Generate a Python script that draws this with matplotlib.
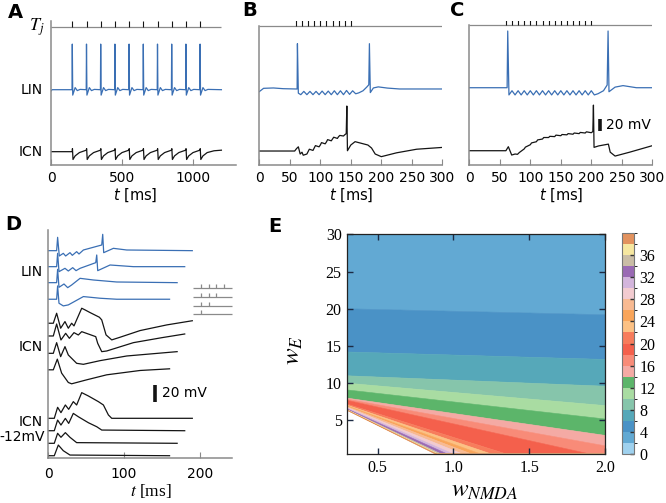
import numpy as np
import matplotlib
matplotlib.use("Agg")
import matplotlib.pyplot as plt
from matplotlib.colors import ListedColormap, BoundaryNorm
from matplotlib.cm import ScalarMappable

W, H = 666, 503
BLUE = "#3a6fb4"
BLACK = "#141414"
GREY = "#8a8a8a"

# ---------------- panel A (100 ms stimulus interval) ----------------
stim_a = [150, 250, 350, 450, 550, 650, 750, 850, 950, 1050]
lin_a_t = [0, 8, 148, 150, 153, 170, 185, 205, 248, 250, 253, 270, 285, 305,
           348, 350, 353, 370, 385, 405, 448, 450, 453, 470, 485, 505,
           548, 550, 553, 570, 585, 605, 648, 650, 653, 670, 685, 705,
           748, 750, 753, 770, 785, 805, 848, 850, 853, 870, 885, 905,
           948, 950, 953, 970, 985, 1005, 1048, 1050, 1053, 1070, 1085, 1105, 1200]
lin_a_v = [-2, 0, 0, 76, -9, 3.5, -1.5, 0.5, 0, 76, -9, 3.5, -1.5, 0.5,
           0, 76, -9, 3.5, -1.5, 0.5, 0, 76, -9, 3.5, -1.5, 0.5,
           0, 76, -9, 3.5, -1.5, 0.5, 0, 76, -9, 3.5, -1.5, 0.5,
           0, 76, -9, 3.5, -1.5, 0.5, 0, 76, -9, 3.5, -1.5, 0.5,
           0, 76, -9, 3.5, -1.5, 0.5, 0, 76, -9, 3.5, -1.5, 0.5, 0]
icn_a_t = [0, 150, 151, 155, 170, 200, 248, 251, 255, 270, 300, 348,
           351, 355, 370, 400, 448, 451, 455, 470, 500, 548,
           551, 555, 570, 600, 648, 651, 655, 670, 700, 748,
           751, 755, 770, 800, 848, 851, 855, 870, 900, 948,
           951, 955, 970, 1000, 1048, 1051, 1055, 1070, 1100, 1148, 1200]
icn_a_v = [0, 0, 5, -13, -7, -1.5, 2.5, 5, -13, -7, -1.5, 2.5,
           5, -13, -7, -1.5, 2.5, 5, -13, -7, -1.5, 2.5,
           5, -13, -7, -1.5, 2.5, 5, -13, -7, -1.5, 2.5,
           5, -13, -7, -1.5, 2.5, 5, -13, -7, -1.5, 2.5,
           5, -13, -7, -1.5, 2.5, 5, -13, -7, -1.5, 1.5, 2.5]

# ---------------- panel B (10 stimuli, 10 ms apart) ----------------
stim_b = [60, 70, 80, 90, 100, 110, 120, 130, 140, 150]
lin_b_t = [0, 7, 23, 39, 60, 62, 62.5, 64, 68, 73, 78, 83, 88, 93, 98, 103, 108,
           113, 118, 123, 128, 133, 138, 143, 148, 153, 158, 163, 170, 176,
           179.5, 180.5, 182, 187, 195, 210, 230, 300]
lin_b_v = [-4.4, 1.1, 1.7, 0.5, 0, 0, 75.5, -7, -9.5, -4, -9.5, -4, -9.5, -4,
           -9.5, -3.5, -9.5, -3.5, -9.5, -3, -9.5, -3, -9.5, -2.5, -9, -3, -8,
           -6.5, -3, 3, 7, 75.5, -6, 1.7, 3.5, 1.5, 0, 0]
icn_b_t = [0, 58, 61, 64, 67, 70, 72, 78, 80, 82, 88, 90, 92, 98, 100, 102, 108,
           110, 112, 118, 120, 122, 128, 130, 132, 138, 140, 142.5, 143.5, 144.5,
           150, 157, 178, 184, 190, 200, 225, 258, 300]
icn_b_v = [0, 0, 4, 7, -5, -2, -7, -5, -1, 3, 1, 5, 9, 7, 10, 14, 12, 15, 19, 17,
           20, 23, 21, 24, 26, 25, 27, 29, 75, 0.5, 10, 15.6, 10, 5, -5, -9.4,
           -3, 3, 6]

# ---------------- panel C (15 stimuli, 10 ms apart) ----------------
stim_c = [60, 70, 80, 90, 100, 110, 120, 130, 140, 150, 160, 170, 180, 190, 200]
lin_c_t = [0, 62, 63, 65, 70, 75, 80, 85, 90, 95, 100, 105, 110, 115, 120, 125,
           130, 135, 140, 145, 150, 155, 160, 165, 170, 175, 180, 185, 190, 195,
           200, 205, 211, 220, 226, 227.5, 229, 239, 252, 274, 300]
lin_c_v = [0, 0, 94.5, -12, -5, -12, -5, -12, -5, -12, -5, -12, -5, -12, -5, -12,
           -5, -12, -5, -12, -5, -12, -5, -12, -5, -12, -5, -12, -5, -12,
           -5, -12, -10, -5, 4.5, 94.5, -6.7, 1, 3.5, 0, 0]
icn_c_t = [0, 60, 64, 69.5, 75, 79, 82, 90, 92, 100, 102, 110, 112, 120, 122,
           130, 132, 140, 142, 150, 152, 160, 162, 170, 172, 180, 182, 190, 192,
           200, 202.5, 203.5, 204.5, 212, 228, 231, 239, 263, 300]
icn_c_v = [0, 0, 6.7, -7.2, -5.5, -6, -3, 3, 6, 10, 13, 15, 18, 19.5, 22, 22, 24,
           23.5, 26, 25, 27, 26.5, 28.5, 27.5, 29.5, 28.5, 30.5, 29.5, 31.5, 30,
           32, 76, 5.6, 8, 11, -2.4, -8.9, -2.4, 8.4]

# ---------------- panel D (1-4 stimuli) ----------------
lin_d_t = [[0, 11, 12.3, 14.5, 19.8, 22.9, 28.6, 31.7, 37.4, 40.5, 46.3, 70.5, 71.8, 73.1, 85.9, 103.5, 190],
           [0, 11, 12.3, 14.1, 22, 26.4, 32.2, 36.6, 41.9, 62.6, 63.9, 65.2, 81.5, 112.3, 180],
           [0, 11, 12.3, 14.1, 20.7, 25.6, 30.8, 41.9, 59.5, 90.3, 170],
           [0, 11, 12.3, 14.1, 19.8, 26.4, 46.3, 68.3, 90.3, 160]]
lin_d_v = [[0, 0, 16, -6.4, -3.2, -6.4, -2.4, -5.6, -1.2, -4, 0.8, 6.8, 19.6, -2.4, 2.8, 0.8, 0],
           [0, 0, 16, -6, -2, -5.2, -1.2, -4.8, -2, 4.8, 14, -4.8, 2, 0, 0],
           [0, 0, 16, -5.6, -1.6, -6, -2.8, 5.2, 3.2, 0.8, 0],
           [0, 0, 16, -4.8, -8, -6.8, 3.2, 1.2, 0, 0]]
icn_d_t = [[0, 6.6, 11, 16.3, 22, 26.4, 30.8, 33.9, 38.3, 44.1, 48.5, 55.1, 67.4, 70.5, 76.2, 83.7, 94.7, 121.1, 156.4, 190],
           [0, 6.6, 11, 16.7, 22.9, 27.8, 33.9, 39.6, 44.1, 62.6, 65.2, 70.5, 77.1, 112.3, 150, 180],
           [0, 6.6, 11, 16.3, 22, 26.4, 37.4, 46.3, 68.3, 103.5, 170],
           [0, 6.6, 11.9, 17.6, 26.4, 30.8, 50.7, 77.1, 121.1, 160]]
icn_d_v = [[0, 0, 12, -6, 2, -6, 0, -3.2, 6, 18, 16, 12.8, 7.2, 4, -14, -20, -16.8, -8.8, -2, 3],
           [0, 0, 14.4, -4.8, 3.2, -2.8, 4, 1.2, 5.2, -0.8, -8.8, -18.8, -18, -8, -2, 2.4],
           [0, 0, 12.8, -4, 8, -2, -12, -13.2, -8.8, -3.2, 2],
           [0, 0, 12.8, -4, -15.2, -16.8, -12, -6, -0.8, 1.2]]
icn12_d_t = [[0, 7.9, 12.3, 16.7, 22.5, 26.9, 33, 37.4, 44.1, 52.9, 66.1, 72.7, 79.3, 83.7, 190],
             [0, 7.9, 12.3, 16.7, 22.5, 26.9, 33, 39.6, 52.9, 63.9, 70.5, 180],
             [0, 7.9, 12.3, 16.7, 22.5, 28.6, 37.4, 170],
             [0, 7.9, 13.2, 19.8, 28.6, 160]]
icn12_d_v = [[0, 0, 13.2, 6.8, 16, 10.8, 20, 16, 30.8, 26.8, 20, 16, 4, 0, 0],
             [0, 0, 12.8, 6.8, 14.8, 8.8, 20.8, 16.8, 9.6, 4.8, 0.8, 0],
             [0, 0, 12, 7.2, 12.8, 7.2, 0.8, 0],
             [0, 0, 12.8, 6, 0.8, 0]]
stim_d = [201.5, 211.5, 221.5, 231.5]

# ---------------- panel E: level boundaries read from the map ----------------
# each boundary runs from (0.3, y_start) to (x_end, y_end)
e_levels = [4, 6, 8, 10, 12, 14, 16, 18, 20, 22, 24, 26, 28, 30, 32, 34, 36, 38, 40]
bound_y_start = [20.0, 14.2, 11.0, 10.0, 9.1, 8.0, 7.85, 7.7, 7.2, 7.05, 6.95,
                 6.85, 6.75, 6.65, 6.55, 6.45, 6.41, 6.38, 6.35]
bound_x_end = [2.0, 2.0, 2.0, 2.0, 2.0, 2.0, 2.0, 1.9, 1.35, 1.25, 1.18, 1.12,
               1.06, 1.0, 0.96, 0.92, 0.9, 0.89, 0.88]
bound_y_end = [19.2, 13.2, 9.6, 7.0, 5.2, 3.0, 1.6, 0.5, 0.5, 0.5, 0.5, 0.5,
               0.5, 0.5, 0.5, 0.5, 0.5, 0.5, 0.5]
band_colors = ['#9fd1ee', '#62a9d3', '#4a92c6', '#56a8b9', '#86c5ab', '#a9dca2',
               '#5cb56a', '#f4aaa4', '#f88b78', '#f4604c', '#f77c5c', '#fcc184',
               '#f9a55a', '#f8ba92', '#f2cbd0', '#d3b5dc', '#9a6ab4', '#cabda6',
               '#f6e7a0', '#e2925e']

fig = plt.figure(figsize=(W / 100, H / 100), dpi=100)


def add_px_axes(x0, y0, x1, y1):
    return fig.add_axes([x0 / W, 1 - y1 / H, (x1 - x0) / W, (y1 - y0) / H])


def ftext(x, y, s, **kw):
    fig.text(x / W, 1 - y / H, s, **kw)


def style_trace_ax(ax, xmax, ticks, ytop, spine_top, pad=4.5):
    ax.set_xlim(0, xmax)
    ax.set_ylim(0, ytop)
    ax.spines['top'].set_visible(False)
    ax.spines['right'].set_visible(False)
    for s in ('left', 'bottom'):
        ax.spines[s].set_color(GREY)
        ax.spines[s].set_linewidth(1.1)
    ax.spines['left'].set_bounds(0, spine_top)
    ax.set_yticks([])
    ax.set_xticks(ticks)
    ax.tick_params(axis='x', direction='in', length=4.5, color=GREY,
                   labelsize=10, pad=pad)
    ax.patch.set_alpha(0)


def raster(ax, stims, y, xmax):
    ax.hlines(y, 0, xmax, color=GREY, lw=0.9)
    ax.vlines(stims, y, y + 10, color=BLACK, lw=0.8)


# ----- A -----
axA = add_px_axes(51, 21, 235.6, 165)
style_trace_ax(axA, 1300, [0, 500, 1000], 240, 240)
raster(axA, stim_a, 230, 1200)
axA.plot(lin_a_t, np.array(lin_a_v) + 125.5, color=BLUE, lw=0.9)
axA.plot(icn_a_t, np.array(icn_a_v) + 22.2, color=BLACK, lw=0.9)

# ----- B -----
axB = add_px_axes(259.3, 21, 442.3, 165)
style_trace_ax(axB, 300, [0, 50, 100, 150, 200, 250, 300], 240, 231.7)
raster(axB, stim_b, 231.7, 300)
axB.plot(lin_b_t, np.array(lin_b_v) + 126.7, color=BLUE, lw=0.9)
axB.plot(icn_b_t, np.array(icn_b_v) + 23.3, color=BLACK, lw=0.9)

# ----- C -----
axC = add_px_axes(469.3, 21, 652.3, 165)
style_trace_ax(axC, 300, [0, 50, 100, 150, 200, 250, 300], 240, 233.3)
raster(axC, stim_c, 233.3, 300)
axC.plot(lin_c_t, np.array(lin_c_v) + 128.8, color=BLUE, lw=0.9)
axC.plot(icn_c_t, np.array(icn_c_v) + 23.8, color=BLACK, lw=0.9)
axC.plot([214, 214], [57.5, 77.5], color=BLACK, lw=2.6, solid_capstyle='butt')
axC.text(224, 67.5, '20 mV', fontsize=10, va='center', ha='left')

for xc in (135, 350.8, 560.8):
    ftext(xc, 195, r'$t$ [ms]', fontsize=10.5, ha='center', va='center')

ftext(36.5, 27, r'$T_j$', fontsize=13, ha='center', va='center',
      math_fontfamily='stix')
ftext(43, 89.5, 'LIN', fontsize=10, ha='right', va='center')
ftext(43, 152, 'ICN', fontsize=10, ha='right', va='center')

# ----- D -----
axD = add_px_axes(48.3, 230, 231.7, 458.3)
style_trace_ax(axD, 242, [0, 100, 200], 274, 274, pad=6)
lin_off = [249.2, 230.0, 210.8, 190.9]
icn_off = [162.1, 146.8, 126.0, 106.2]
icn12_off = [48.0, 33.1, 18.0, 3.1]
for t, v, o in zip(lin_d_t, lin_d_v, lin_off):
    axD.plot(t, np.array(v) + o, color=BLUE, lw=0.9)
for t, v, o in zip(icn_d_t, icn_d_v, icn_off):
    axD.plot(t, np.array(v) + o, color=BLACK, lw=0.9)
for t, v, o in zip(icn12_d_t, icn12_d_v, icn12_off):
    axD.plot(t, np.array(v) + o, color=BLACK, lw=0.9)
axD.plot([141, 141], [68, 88], color=BLACK, lw=2.6, solid_capstyle='butt')
axD.text(150, 78.4, '20 mV', fontsize=10, va='center', ha='left')
inset_rows = [204.1, 194.0, 182.8, 172.9]
for k, yr in enumerate(inset_rows):
    axD.hlines(yr, 191.5, 242, color=GREY, lw=0.9, clip_on=False)
    axD.vlines(stim_d[:4 - k], yr, yr + 4.8, color=GREY, lw=0.9, clip_on=False)

ftext(43, 271.7, 'LIN', fontsize=10, ha='right', va='center')
ftext(43, 346.7, 'ICN', fontsize=10, ha='right', va='center')
ftext(43, 421.7, 'ICN', fontsize=10, ha='right', va='center')
ftext(45, 437.3, '-12mV', fontsize=10, ha='right', va='center')
ftext(150.5, 491, r'$t$ [ms]', fontsize=12.5, ha='center', va='center',
      family='Liberation Serif', math_fontfamily='stix')

# ----- E -----
XMIN, XMAX, YMIN, YMAX = 0.3, 2.0, 0.5, 30
axE = add_px_axes(347.3, 234.3, 605, 454)


def boundary(k):
    xs = [XMIN, bound_x_end[k]]
    ys = [bound_y_start[k], bound_y_end[k]]
    if bound_x_end[k] < XMAX:
        xs.append(XMAX)
        ys.append(YMIN)
    return xs, ys


upper = ([XMIN, XMAX], [YMAX, YMAX])
for k in range(len(e_levels)):
    lower = boundary(k)
    px = upper[0] + lower[0][::-1]
    py = upper[1] + lower[1][::-1]
    col = band_colors[e_levels[k] // 2 - 1]
    axE.fill(px, py, color=col, ec=col, lw=0.4)
    upper = lower

axE.set_xlim(XMIN, XMAX)
axE.set_ylim(YMIN, YMAX)
axE.set_xticks([0.5, 1.0, 1.5, 2.0])
axE.set_xticklabels(['0.5', '1.0', '1.5', '2.0'])
axE.set_yticks([5, 10, 15, 20, 25, 30])
axE.tick_params(direction='in', top=True, right=True, length=4, width=1,
                color='#1c2b45', labelsize=11.5, pad=4)
for lab in axE.get_xticklabels() + axE.get_yticklabels():
    lab.set_family('Liberation Serif')
for s in axE.spines.values():
    s.set_linewidth(0.9)
    s.set_color('#222222')
    s.set_zorder(5)

cax = add_px_axes(622, 233, 634, 454)
norm = BoundaryNorm(np.arange(0, 42, 2), len(band_colors))
sm = ScalarMappable(norm=norm, cmap=ListedColormap(band_colors))
cb = fig.colorbar(sm, cax=cax, ticks=np.arange(0, 40, 4))
cb.outline.set_linewidth(0.8)
cb.outline.set_edgecolor('#777777')
cax.tick_params(direction='in', length=3, width=1, color='#333333',
                labelsize=11.5, pad=4)
for lab in cax.get_yticklabels():
    lab.set_family('Liberation Serif')

ftext(485, 490, r'$w_{NMDA}$', fontsize=18, ha='center', va='center',
      math_fontfamily='stix')
ftext(293, 350, r'$w_{E}$', fontsize=18, ha='center', va='center',
      rotation=90, math_fontfamily='stix')

# panel letters
for s, x, y in (('A', 15, 12), ('B', 250, 11), ('C', 457, 11), ('D', 13, 224), ('E', 275, 227)):
    ftext(x, y, s, fontsize=14, fontweight='bold', ha='center', va='center')

fig.savefig('out.png', dpi=100)
